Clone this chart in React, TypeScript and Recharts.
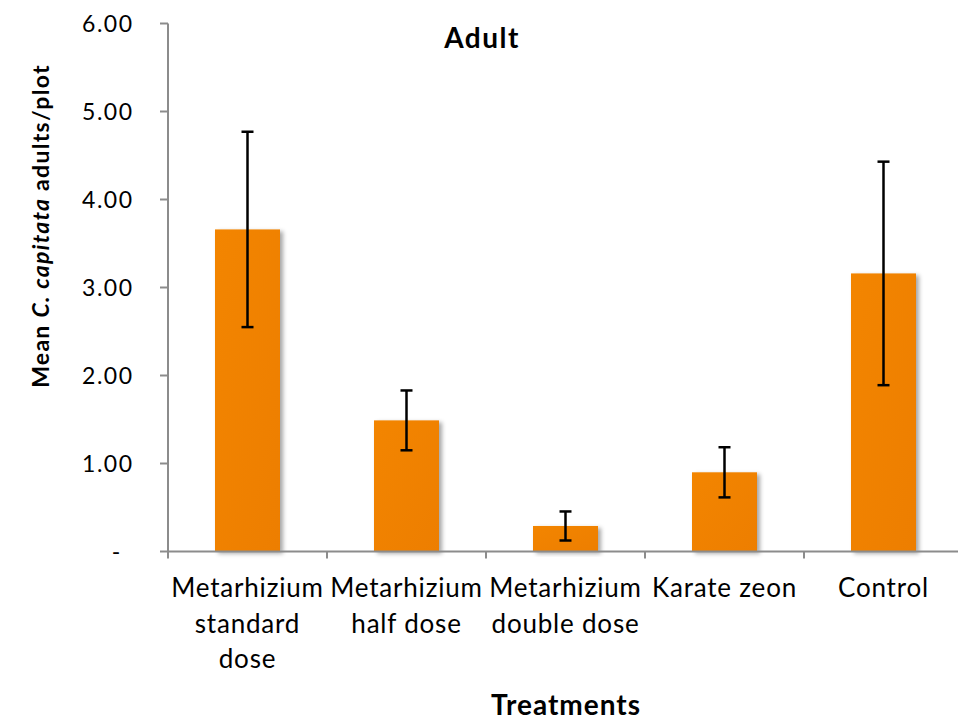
import { BarChart, Bar, XAxis, YAxis, ErrorBar, Label } from 'recharts'

// mean adults per plot and standard error, one entry per treatment
const treatments = [
  'Metarhizium standard dose',
  'Metarhizium half dose',
  'Metarhizium double dose',
  'Karate zeon',
  'Control',
]
const tickLines = [
  ['Metarhizium', 'standard', 'dose'],
  ['Metarhizium', 'half dose'],
  ['Metarhizium', 'double dose'],
  ['Karate zeon'],
  ['Control'],
]
const means = [3.66, 1.49, 0.29, 0.9, 3.16]
const stdErrors = [1.11, 0.34, 0.165, 0.285, 1.27]
const yTicks = [0, 1, 2, 3, 4, 5, 6]

const FONT = 'Lato, "Open Sans", sans-serif'
const AXIS_GREY = '#8c8c8c'
const CHART_W = 964
const Y_AXIS_W = 168
const MARGIN_RIGHT = 1
const BAND = (CHART_W - Y_AXIS_W - MARGIN_RIGHT) / treatments.length

const data = treatments.map((name, i) => ({ name, mean: means[i], se: stdErrors[i] }))

function XTick(props: any) {
  const { x, y, index } = props
  const lines = tickLines[index] || []
  return (
    <g>
      {/* Excel-style tick marks sit between categories */}
      <line x1={x - BAND / 2} x2={x - BAND / 2} y1={y} y2={y + 7} stroke={AXIS_GREY} strokeWidth={2} />
      <text x={x} y={y + 45.5} textAnchor="middle" fontFamily={FONT} fontSize={26} letterSpacing={0.8} fill="#000">
        {lines.map((l, i) => (
          <tspan key={i} x={x} dy={i === 0 ? 0 : 35.5}>{l}</tspan>
        ))}
      </text>
    </g>
  )
}

function YTick(props: any) {
  const { x, y, payload } = props
  const v = payload.value as number
  if (v === 0) {
    return (
      <text x={x - 16} y={y} dy="0.35em" textAnchor="middle" fontFamily={FONT} fontSize={23} fill="#000">-</text>
    )
  }
  return (
    <text x={x + 1.5} y={y} dy="0.35em" textAnchor="end" fontFamily={FONT} fontSize={23} letterSpacing={1.5} fill="#000">
      {v.toFixed(2)}
    </text>
  )
}

function YTitle() {
  return (
    <text
      x={40}
      y={226}
      transform="rotate(-90 40 226)"
      textAnchor="middle"
      dominantBaseline="central"
      fontFamily={FONT}
      fontSize={23}
      letterSpacing={1.3}
      fontWeight="bold"
      fill="#000"
    >
      Mean <tspan fontStyle="italic">C. capitata</tspan> adults/plot
    </text>
  )
}

function XTitle() {
  return (
    <text x={566} y={715} textAnchor="middle" fontFamily={FONT} fontSize={28} letterSpacing={1} fontWeight="bold" fill="#000">
      Treatments
    </text>
  )
}

function ShadowBar(props: any) {
  const { x, y, width, height } = props
  return <rect x={x} y={y} width={width} height={height} fill="url(#barFill)" filter="url(#barShadow)" />
}

export default function App() {
  return (
    <div style={{ position: 'absolute', left: 0, top: 0, width: 958, height: 720, overflow: 'hidden', background: '#fff' }}>
      <BarChart
        width={CHART_W}
        height={720}
        data={data}
        margin={{ top: 23.5, right: MARGIN_RIGHT, left: 0, bottom: 0 }}
      >
        <defs>
          <linearGradient id="barFill" x1="0" y1="0" x2="1" y2="1">
            <stop offset="0%" stopColor="#f38500" />
            <stop offset="100%" stopColor="#ed7e02" />
          </linearGradient>
          <filter id="barShadow" x="-20%" y="-10%" width="150%" height="130%">
            <feDropShadow dx="3" dy="2" stdDeviation="2" floodColor="#000" floodOpacity="0.35" />
          </filter>
        </defs>
        <XAxis
          dataKey="name"
          height={168.5}
          interval={0}
          tickSize={0}
          tickMargin={0}
          tick={<XTick />}
          axisLine={{ stroke: AXIS_GREY, strokeWidth: 2 }}
        >
          <Label content={<XTitle />} />
        </XAxis>
        <YAxis
          width={Y_AXIS_W}
          domain={[0, 6]}
          ticks={yTicks}
          interval={0}
          tickSize={8}
          tickMargin={28}
          tick={<YTick />}
          tickLine={{ stroke: AXIS_GREY, strokeWidth: 2 }}
          axisLine={{ stroke: AXIS_GREY, strokeWidth: 2 }}
        >
          <Label content={<YTitle />} />
        </YAxis>
        <Bar dataKey="mean" barSize={65} shape={<ShadowBar />} isAnimationActive={false}>
          <ErrorBar dataKey="se" width={6} stroke="#000" strokeWidth={2.5} direction="y" />
        </Bar>
      </BarChart>
      <div
        style={{
          position: 'absolute',
          left: 444,
          width: 76,
          top: 20,
          textAlign: 'center',
          fontFamily: FONT,
          fontWeight: 'bold',
          fontSize: 28,
          letterSpacing: 1.5,
          lineHeight: '34px',
          whiteSpace: 'nowrap',
        }}
      >
        Adult
      </div>
    </div>
  )
}
